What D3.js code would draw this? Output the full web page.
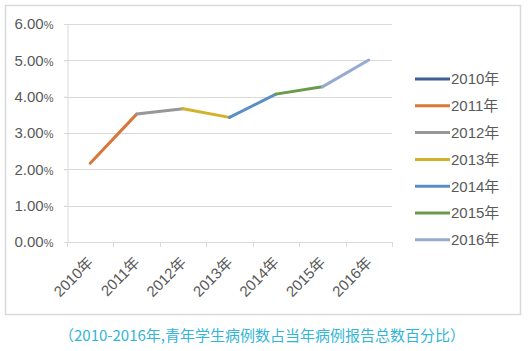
<!DOCTYPE html>
<html><head><meta charset="utf-8">
<script src="https://cdn.jsdelivr.net/npm/d3@7/dist/d3.min.js"></script>
<style>body{margin:0;background:#fff}svg{display:block}</style>
</head><body>
<script>
const categories = ["2010年","2011年","2012年","2013年","2014年","2015年","2016年"];
const values = [2.17, 3.52, 3.67, 3.43, 4.07, 4.27, 5.01];
const seriesNames = ["2010年","2011年","2012年","2013年","2014年","2015年","2016年"];
const seriesColors = ["#3e5f95","#d9773a","#979797","#d4b12c","#5b8fc4","#6b9b4a","#97aad2"];
const yTicks = [0,1,2,3,4,5,6];
const caption = "（2010-2016年,青年学生病例数占当年病例报告总数百分比）";

const W = 531, H = 351;
const svg = d3.select("body").append("svg").attr("width", W).attr("height", H);
const font = "'Liberation Sans',Arial,'Noto Sans CJK SC',sans-serif";

svg.append("rect").attr("x",5.5).attr("y",5.5).attr("width",515).attr("height",309)
  .attr("fill","#fff").attr("stroke","#d9d9d9").attr("stroke-width",1.5);

const x = d3.scaleBand().domain(categories).range([67, 392]);
const y = d3.scaleLinear().domain([0, 6]).range([242, 24]);

// grid
svg.append("g").selectAll("line").data(yTicks.slice(1)).join("line")
  .attr("x1", 64).attr("x2", 392).attr("y1", d => Math.round(y(d))+0.5).attr("y2", d => Math.round(y(d))+0.5)
  .attr("stroke", "#d9d9d9").attr("stroke-width", 1);

// y axis
const yAxis = svg.append("g").attr("transform","translate(67.5,0)")
  .call(d3.axisLeft(y).tickValues(yTicks).tickFormat(d => d.toFixed(2)).tickSize(3).tickPadding(11));
yAxis.select(".domain").attr("stroke","#d9d9d9");
yAxis.selectAll(".tick line").attr("stroke","#d9d9d9");
yAxis.selectAll("text").attr("fill","#595959").style("font-family",font).style("font-size","15px")
  .append("tspan").text("%").style("font-size","11px");

// x axis
const xAxis = svg.append("g").attr("transform","translate(0,242.5)")
  .call(d3.axisBottom(x).tickSize(0).tickPadding(0));
xAxis.select(".domain").attr("stroke","#d9d9d9").attr("d","M67,0H392");
const edges = categories.map(c => x(c)).concat([x.range()[1]]);
svg.append("g").selectAll("line").data(edges).join("line")
  .attr("x1", d => Math.round(d)+0.5).attr("x2", d => Math.round(d)+0.5)
  .attr("y1", 242).attr("y2", 247).attr("stroke","#d9d9d9");
xAxis.selectAll("text")
  .attr("fill","#595959").style("font-family",font).style("font-size","15px")
  .attr("text-anchor","end").attr("dy","0")
  .attr("transform","translate(4,21) rotate(-45)");

// line segments, colored per series
const pts = categories.map((c,i) => [x(c) + x.bandwidth()/2, y(values[i])]);
const segs = d3.range(1, pts.length).map(i => ({a: pts[i-1], b: pts[i], color: seriesColors[i]}));
svg.append("g").selectAll("line").data(segs).join("line")
  .attr("x1", d => d.a[0]).attr("y1", d => d.a[1]).attr("x2", d => d.b[0]).attr("y2", d => d.b[1])
  .attr("stroke", d => d.color).attr("stroke-width", 3).attr("stroke-linecap","round");

// legend
const leg = svg.append("g").selectAll("g").data(seriesNames).join("g")
  .attr("transform", (d,i) => `translate(415,${79 + i*26.8})`);
leg.append("line").attr("x1",0).attr("x2",35).attr("y1",0).attr("y2",0)
  .attr("stroke",(d,i)=>seriesColors[i]).attr("stroke-width",3);
leg.append("text").attr("x",36).attr("y",0).attr("dy","0.36em").text(d=>d)
  .attr("fill","#595959").style("font-family",font).style("font-size","15px");

// caption
svg.append("text").attr("x",262).attr("y",336).attr("dy","0.35em").attr("text-anchor","middle")
  .text(caption).attr("fill","#33b5d8")
  .style("font-family","'Noto Sans CJK SC',sans-serif").style("font-size","15px");
</script>
</body></html>
